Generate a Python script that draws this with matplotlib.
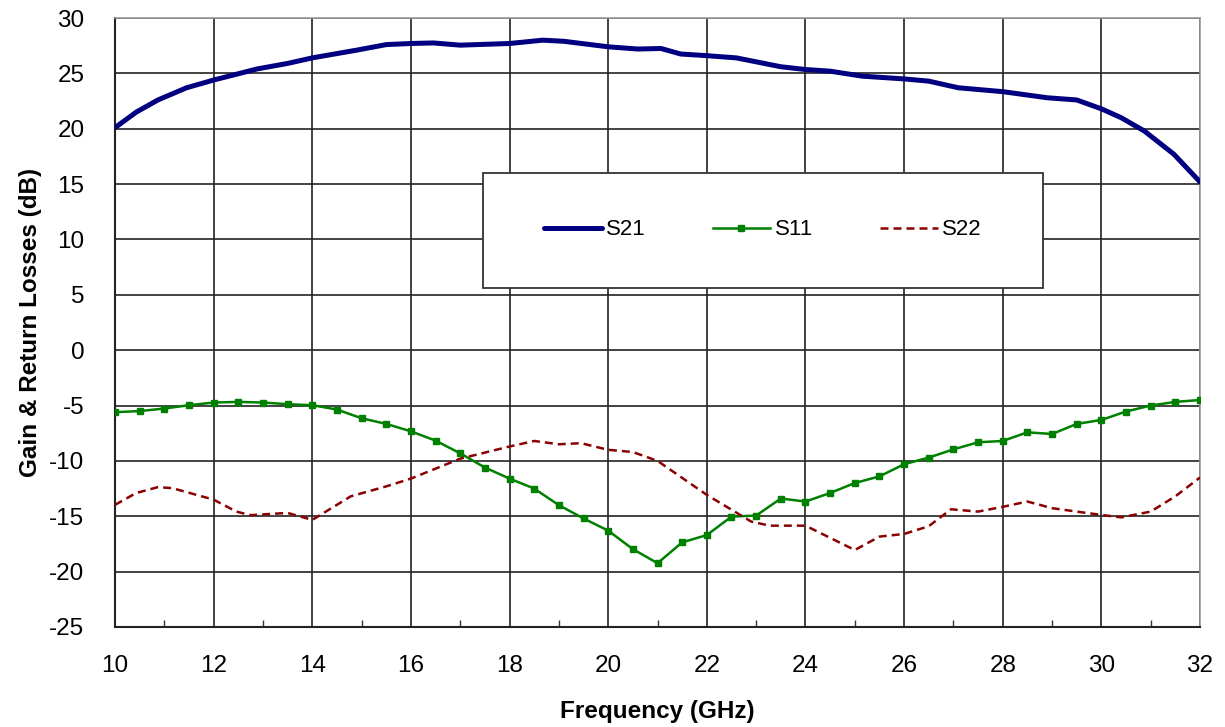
import numpy as np
import matplotlib.pyplot as plt
from matplotlib.patches import Rectangle
from matplotlib.ticker import MultipleLocator

plt.rcParams['font.family'] = ['Liberation Sans', 'DejaVu Sans']
plt.rcParams['axes.unicode_minus'] = False

# =====================================================================
# Data
# =====================================================================

# S21 gain, smooth curve
s21_freq = [10, 10.43, 10.87, 11.45, 12, 12.88, 13.5, 14, 14.9, 15.5, 16, 16.45,
            17, 18, 18.67, 19.1, 20, 20.6, 21.07, 21.47, 22, 22.6, 23.5, 24, 24.5,
            25.15, 26, 26.5, 27.1, 28, 28.9, 29.5, 30, 30.4, 30.87, 31.47, 32]
s21_db = [20.1, 21.5, 22.6, 23.7, 24.4, 25.4, 25.9, 26.4, 27.1, 27.6, 27.7, 27.75,
          27.55, 27.7, 28.0, 27.9, 27.4, 27.2, 27.25, 26.75, 26.6, 26.4, 25.6, 25.35, 25.2,
          24.75, 24.5, 24.3, 23.7, 23.35, 22.8, 22.6, 21.8, 21.0, 19.8, 17.7, 15.2]

# S11 input return loss, measured every 0.5 GHz
s11_freq = np.arange(10, 32.01, 0.5)
s11_db = [-5.6, -5.5, -5.27, -4.97, -4.73, -4.67, -4.73, -4.88, -4.97, -5.36,
          -6.15, -6.66, -7.33, -8.17, -9.32, -10.6, -11.6, -12.5, -14.0, -15.2,
          -16.3, -17.97, -19.24, -17.36, -16.7, -15.03, -14.94, -13.4, -13.67, -12.9,
          -12.0, -11.4, -10.3, -9.7, -8.96, -8.32, -8.2, -7.42, -7.57, -6.66,
          -6.3, -5.54, -5.0, -4.67, -4.5]

# S22 output return loss, smooth dashed curve
s22_freq = [10, 10.43, 10.87, 11.16, 12, 12.46, 12.75, 13.5, 14, 14.78, 15.5, 16,
            17, 18, 18.5, 19, 19.45, 20, 20.5, 21, 22, 22.9, 23.27, 24, 25, 25.5,
            26, 26.5, 26.95, 27.5, 28, 28.5, 29, 29.5, 30, 30.4, 31, 31.5, 32]
s22_db = [-13.97, -12.9, -12.37, -12.46, -13.5, -14.58, -14.9, -14.7, -15.33, -13.2,
          -12.3, -11.6, -9.8, -8.7, -8.2, -8.5, -8.4, -9.0, -9.2, -10.0, -13.07,
          -15.48, -15.85, -15.85, -18.05, -16.84, -16.6, -15.9, -14.37, -14.58,
          -14.15, -13.67, -14.27, -14.58, -14.88, -15.1, -14.58, -13.2, -11.5]

# =====================================================================
# Plot
# =====================================================================

fig = plt.figure(figsize=(12.25, 7.27), dpi=100)
ax = fig.add_axes([0.0939, 0.1376, 0.8857, 0.8376])

ax.plot(s21_freq, s21_db, color='#000080', linewidth=3.6, label='S21',
        solid_capstyle='round', zorder=4)
ax.plot(s11_freq, s11_db, color='#008000', linewidth=1.8, marker='s',
        markersize=5, label='S11', zorder=4)
ax.plot(s22_freq, s22_db, color='#8B0000', linewidth=1.8, linestyle=(0, (3.2, 2)),
        label='S22', zorder=4)

ax.set_xlim(10, 32)
ax.set_ylim(-25, 30)
ax.xaxis.set_major_locator(MultipleLocator(2))
ax.xaxis.set_minor_locator(MultipleLocator(1))
ax.yaxis.set_major_locator(MultipleLocator(5))

ax.grid(True, which='major', color='#222222', linewidth=1.2)
ax.set_axisbelow(True)

ax.tick_params(axis='both', which='major', length=0, labelsize=17.5)
ax.tick_params(axis='x', pad=20)
ax.tick_params(axis='y', pad=22)
ax.tick_params(axis='x', which='minor', direction='in', length=5, width=1, color='#333333')

for side in ['left', 'bottom']:
    ax.spines[side].set_color('#222222')
    ax.spines[side].set_linewidth(1.5)
for side in ['right', 'top']:
    ax.spines[side].set_color('#999999')
    ax.spines[side].set_linewidth(1.2)

ax.set_xlabel('Frequency (GHz)', fontsize=17.5, fontweight='bold', labelpad=17)
ax.set_ylabel('Gain & Return Losses (dB)', fontsize=17.5, fontweight='bold', labelpad=5)

# Legend box drawn over the grid
ax.add_patch(Rectangle((0.339, 0.557), 0.516, 0.188, transform=ax.transAxes,
                       facecolor='white', edgecolor='#333333', linewidth=1.3, zorder=3))
ax.legend(loc='center', bbox_to_anchor=(0.597, 0.652), ncol=3, frameon=False,
          fontsize=16, handlelength=2.6, handletextpad=0.2, columnspacing=3.0)

plt.savefig('out.png', dpi=100)
